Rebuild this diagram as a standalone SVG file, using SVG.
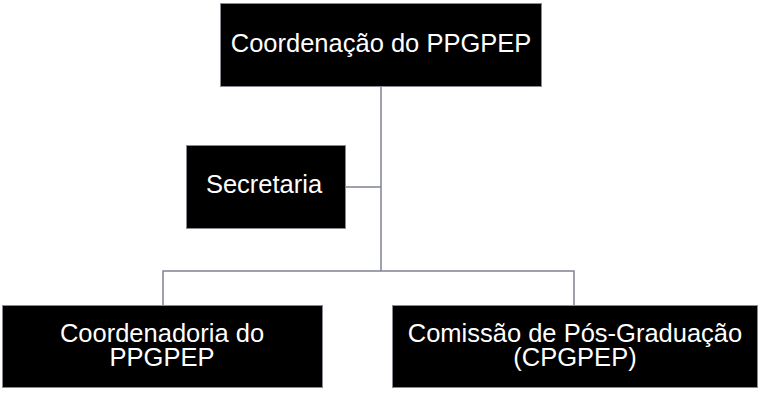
<svg xmlns="http://www.w3.org/2000/svg" width="760" height="408" viewBox="0 0 760 408">
<style>
.box{fill:#000;stroke:#8a8a92;stroke-width:1}
.t{fill:#fff;font-family:"Liberation Sans",Arial,sans-serif;font-size:25.5px;text-anchor:middle}
.c{fill:none;stroke:#7f8290;stroke-width:1.5}
</style>
<rect width="760" height="408" fill="#fff"/>
<g id="connectors">
<path class="c" d="M381 87V271"/>
<path class="c" d="M346 187H381"/>
<path class="c" d="M163 305V271H574V305"/>
</g>
<g id="coordenacao">
<rect class="box" x="220.5" y="3.5" width="321" height="83"/>
<text class="t" x="381" y="52">Coordenação do PPGPEP</text>
</g>
<g id="secretaria">
<rect class="box" x="186.5" y="145.5" width="159" height="83"/>
<text class="t" x="264" y="193">Secretaria</text>
</g>
<g id="coordenadoria">
<rect class="box" x="2.5" y="305.5" width="320" height="82"/>
<text class="t" x="162" y="342">Coordenadoria do</text>
<text class="t" x="162" y="366">PPGPEP</text>
</g>
<g id="comissao">
<rect class="box" x="392.5" y="305.5" width="365" height="82"/>
<text class="t" x="575" y="342">Comissão de Pós-Graduação</text>
<text class="t" x="575" y="366">(CPGPEP)</text>
</g>
</svg>
